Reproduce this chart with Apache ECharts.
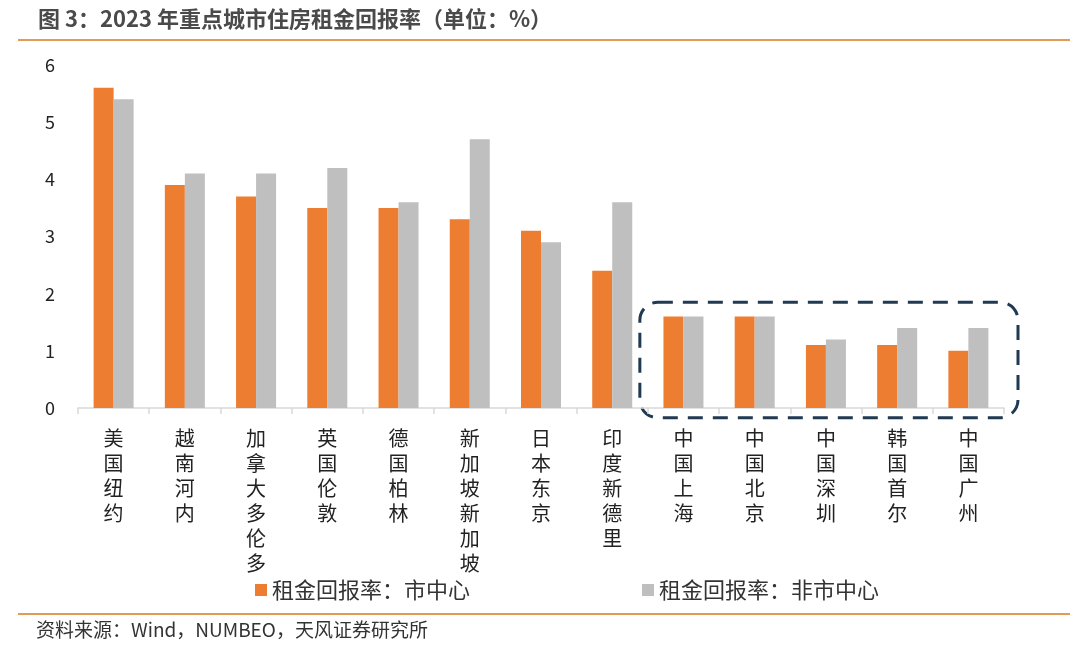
<!DOCTYPE html>
<html>
<head>
<meta charset="utf-8">
<script src="https://cdn.jsdelivr.net/npm/echarts@6/dist/echarts.min.js"></script>
<style>
  html, body { margin: 0; padding: 0; background: #fff; }
  #chart { width: 1080px; height: 654px; }
</style>
</head>
<body>
<div id="chart"></div>
<script>
// 城市（类目）
const cities = ['美国纽约', '越南河内', '加拿大多伦多', '英国伦敦', '德国柏林', '新加坡新加坡',
  '日本东京', '印度新德里', '中国上海', '中国北京', '中国深圳', '韩国首尔', '中国广州'];
// 租金回报率：市中心
const cityCenter = [5.6, 3.9, 3.7, 3.5, 3.5, 3.3, 3.1, 2.4, 1.6, 1.6, 1.1, 1.1, 1.0];
// 租金回报率：非市中心
const outsideCenter = [5.4, 4.1, 4.1, 4.2, 3.6, 4.7, 2.9, 3.6, 1.6, 1.6, 1.2, 1.4, 1.4];
const yTicks = [0, 1, 2, 3, 4, 5, 6];

// 竖排标签：每个字一行
function vertical(name) {
  return name.split('').join('\n');
}

const chart = echarts.init(document.getElementById('chart'));
const font = '"Noto Sans CJK SC", "Microsoft YaHei", sans-serif';

chart.setOption({
  animation: false,
  textStyle: { fontFamily: font },
  grid: { left: 78, right: 76, top: 65, bottom: 246 },
  legend: {
    bottom: 48,
    left: 250,
    itemWidth: 12,
    itemHeight: 12,
    itemGap: 172,
    icon: 'rect',
    textStyle: { fontSize: 22, color: '#333', fontFamily: font },
    data: ['租金回报率：市中心', '租金回报率：非市中心']
  },
  xAxis: {
    type: 'category',
    data: cities,
    axisLine: { lineStyle: { color: '#d9d9d9', width: 1.5 } },
    axisTick: { show: true, length: 6, lineStyle: { color: '#d9d9d9', width: 1.5 } },
    axisLabel: {
      interval: 0,
      margin: 18,
      fontSize: 20,
      lineHeight: 25,
      color: '#222',
      formatter: vertical
    }
  },
  yAxis: {
    type: 'value',
    min: yTicks[0],
    max: yTicks[yTicks.length - 1],
    interval: 1,
    splitLine: { show: false },
    axisLine: { show: false },
    axisTick: { show: false },
    axisLabel: { fontSize: 18, color: '#222', margin: 28, align: 'center' }
  },
  series: [
    {
      name: '租金回报率：市中心',
      type: 'bar',
      data: cityCenter,
      barWidth: 20,
      barGap: '0%',
      itemStyle: { color: '#ED7D31' }
    },
    {
      name: '租金回报率：非市中心',
      type: 'bar',
      data: outsideCenter,
      barWidth: 20,
      barGap: '0%',
      itemStyle: { color: '#BFBFBF' }
    }
  ]
});

// 标题、分隔线、来源，以及中国/韩国城市的虚线框
const w = 1080;
const left = chart.convertToPixel({ xAxisIndex: 0 }, 8);
const right = chart.convertToPixel({ xAxisIndex: 0 }, 12);
const step = right - chart.convertToPixel({ xAxisIndex: 0 }, 11);
const boxTop = chart.convertToPixel({ yAxisIndex: 0 }, 1.85);
const boxBottom = chart.convertToPixel({ yAxisIndex: 0 }, -0.17);
const boxLeft = left - step / 2 - 8;
const boxRight = right + step / 2 + 14;

chart.setOption({
  graphic: [
    {
      type: 'text', left: 38, top: 8,
      style: { text: '图 3：2023 年重点城市住房租金回报率（单位：%）', fontSize: 22, fontWeight: 'bold',
        fill: '#4a4a4a', fontFamily: font }
    },
    {
      type: 'line', shape: { x1: 18, y1: 40, x2: w - 10, y2: 40 },
      style: { stroke: '#E39A55', lineWidth: 2 }
    },
    {
      type: 'line', shape: { x1: 18, y1: 614, x2: w - 10, y2: 614 },
      style: { stroke: '#E39A55', lineWidth: 2 }
    },
    {
      type: 'text', left: 36, top: 620,
      style: { text: '资料来源：Wind，NUMBEO，天风证券研究所', fontSize: 19, fill: '#333', fontFamily: font }
    },
    {
      type: 'rect',
      shape: { x: boxLeft, y: boxTop, width: boxRight - boxLeft, height: boxBottom - boxTop, r: 18 },
      style: { fill: 'none', stroke: '#1F3A52', lineWidth: 3, lineDash: [15, 10] }
    }
  ]
});
</script>
</body>
</html>
